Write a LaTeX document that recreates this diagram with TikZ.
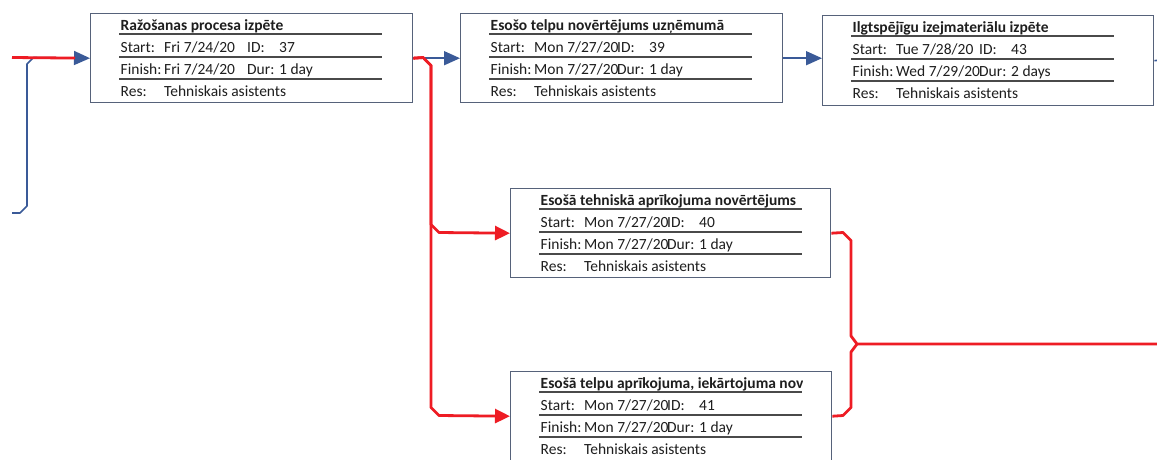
\documentclass[tikz,border=0pt]{standalone}
\usepackage{fontspec}
\setmainfont{Carlito}
\usetikzlibrary{arrows.meta,calc}
\definecolor{boxline}{HTML}{56627A}
\definecolor{sepline}{HTML}{4A4A4A}
\definecolor{pblue}{HTML}{3A5A98}
\definecolor{pred}{HTML}{EE1C24}
\definecolor{txt}{HTML}{1E1E1E}
\tikzset{
 tbox/.style={draw=boxline, line width=1.4pt, minimum height=89pt, inner sep=0pt, fill=white},
 ttext/.style={anchor=base west, inner sep=0pt, text=txt, font=\fontsize{15.5}{17}\selectfont},
 ttitle/.style={ttext, font=\fontsize{15.5}{17}\selectfont\bfseries},
 sepln/.style={draw=sepline, line width=1.2pt},
 bluecon/.style={draw=pblue, line width=1.6pt, line join=round},
 bluearr/.style={bluecon, -{Triangle[length=16pt,width=14pt]}},
 redcon/.style={draw=pred, line width=2.8pt, line join=round},
 redarr/.style={redcon, -{Triangle[length=15pt,width=14pt]}},
}
\newcommand\taskbox[9]{%
 \node[tbox, #4, anchor=north west] (#1) at (#2,#3) {};
 \begin{scope}[shift={(#2,#3)}]
  \draw[sepln] (29,21) -- (292,21);
  \draw[sepln] (29,44) -- (292,44);
  \draw[sepln] (29,66) -- (292,66);
  \begin{scope}\clip (29,0) rectangle (292,21);
   \node[ttitle] (#1-title) at (30.5,17) {#5};
  \end{scope}
  \node[ttext] (#1-sl) at (30.5,39) {Start:};
  \node[ttext] (#1-sv) at (74,39) {#6};
  \node[ttext] (#1-il) at (157,39) {ID:};
  \node[ttext] (#1-iv) at (189,39) {#7};
  \node[ttext] (#1-fl) at (30.5,61) {Finish:};
  \node[ttext] (#1-fv) at (74,61) {#8};
  \node[ttext] (#1-dl) at (157,61) {Dur:};
  \node[ttext] (#1-dv) at (189,61) {#9};
  \node[ttext] (#1-rl) at (30.5,83) {Res:};
  \node[ttext] (#1-rv) at (74,83) {Tehniskais asistents};
 \end{scope}
}
\begin{document}
\begin{tikzpicture}[x=1pt,y=-1pt]
\fill[white] (0,0) rectangle (1157,459);
\useasboundingbox (0,0) rectangle (1157,459);
\taskbox{b37}{90}{13}{minimum width=322pt}{Ražošanas procesa izpēte}{Fri 7/24/20}{37}{Fri 7/24/20}{1 day}
\taskbox{b39}{460}{13}{minimum width=322pt}{Esošo telpu novērtējums uzņēmumā}{Mon 7/27/20}{39}{Mon 7/27/20}{1 day}
\taskbox{b43}{822}{15}{minimum width=331pt, minimum height=90pt}{Ilgtspējīgu izejmateriālu izpēte}{Tue 7/28/20}{43}{Wed 7/29/20}{2 days}
\taskbox{b40}{510}{188}{minimum width=320pt}{Esošā tehniskā aprīkojuma novērtējums}{Mon 7/27/20}{40}{Mon 7/27/20}{1 day}
\taskbox{b41}{510}{371}{minimum width=321pt}{Esošā telpu aprīkojuma, iekārtojuma novērtējums}{Mon 7/27/20}{41}{Mon 7/27/20}{1 day}
% incoming connectors
\coordinate (inR) at (12,57.5);
\coordinate (inB) at (12,213);
\draw[bluearr] (inB) -- (20,213) -- (27,206) -- (27,64) -- (33.5,57.5) -- (b37.west);
\draw[redcon, shorten >=15pt] (inR) -- (b37.west);
% top row
\draw[bluearr] (b37.east) -- (b37.east -| b39.west);
\draw[redarr] (b37.east) -- (423,57.5) -- (431,65.5) -- (431,224.5) -- (439,232.5) -- (b40.west);
\draw[redarr] (b37.east) -- (423,57.5) -- (431,65.5) -- (431,407.5) -- (439,415.5) -- (b41.west);
\draw[bluearr] (b39.east) -- (b39.east -| b43.west);
\coordinate (outB) at (1160,60);
\draw[bluecon] (b43.east) -- (outB);
% merge
\coordinate (outR) at (1160,344);
\draw[redcon] (b40.east) -- (843,232.5) -- (851,240.5) -- (851,336) -- (857,344) -- (outR);
\draw[redcon] (b41.east) -- (843,415.5) -- (851,407.5) -- (851,352) -- (857,344);
\end{tikzpicture}
\end{document}
